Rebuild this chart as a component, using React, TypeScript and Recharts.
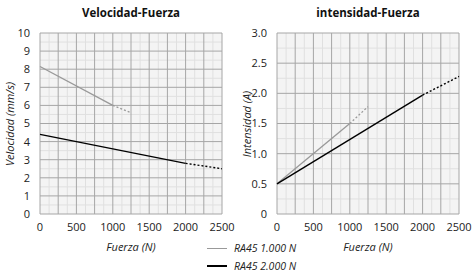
import React from 'react';
import {
  LineChart,
  Line,
  XAxis,
  YAxis,
  CartesianGrid,
  ReferenceLine,
} from 'recharts';

// fuerza ticks
const forceTicks = [0, 500, 1000, 1500, 2000, 2500];
const forceGrid = [0, 250, 500, 750, 1000, 1250, 1500, 1750, 2000, 2250, 2500];
const forceMinor = [125, 375, 625, 875, 1125, 1375, 1625, 1875, 2125, 2375];

const speedTicks = [0, 1, 2, 3, 4, 5, 6, 7, 8, 9, 10];
const speedMinor = [0.5, 1.5, 2.5, 3.5, 4.5, 5.5, 6.5, 7.5, 8.5, 9.5];

const currentTicks = [0, 0.5, 1.0, 1.5, 2.0, 2.5, 3.0];
const currentMinor = [0.25, 0.75, 1.25, 1.75, 2.25, 2.75];

// Velocidad-Fuerza
const speed1000 = [{ f: 0, v: 8.15 }, { f: 1000, v: 6.0 }];
const speed1000Dash = [{ f: 1000, v: 6.0 }, { f: 1250, v: 5.6 }];
const speed2000 = [{ f: 0, v: 4.4 }, { f: 2000, v: 2.8 }];
const speed2000Dash = [{ f: 2000, v: 2.8 }, { f: 2500, v: 2.5 }];

// intensidad-Fuerza
const current1000 = [{ f: 0, v: 0.5 }, { f: 1000, v: 1.5 }];
const current1000Dash = [{ f: 1000, v: 1.5 }, { f: 1250, v: 1.78 }];
const current2000 = [{ f: 0, v: 0.5 }, { f: 2000, v: 1.97 }];
const current2000Dash = [{ f: 2000, v: 1.97 }, { f: 2500, v: 2.28 }];

const FONT = '"Open Sans", sans-serif';
const GRAY = '#999999';
const tickStyle = { fontSize: 11, fill: '#222', fontFamily: FONT };

interface PanelProps {
  title: string;
  yLabel: string;
  yTicks: number[];
  yMinor: number[];
  yMax: number;
  yFormat: (v: number) => string;
  s1: { f: number; v: number }[];
  s1d: { f: number; v: number }[];
  s2: { f: number; v: number }[];
  s2d: { f: number; v: number }[];
  left: number;
}

function Panel({ title, yLabel, yTicks, yMinor, yMax, yFormat, s1, s1d, s2, s2d, left }: PanelProps) {
  return (
    <div style={{ position: 'absolute', left, top: 0, width: 236, height: 275 }}>
      <div
        style={{
          position: 'absolute',
          left: 40,
          width: 182,
          top: 5,
          textAlign: 'center',
          fontFamily: FONT,
          fontWeight: 'bold',
          fontSize: 11.5,
          color: '#111',
        }}
      >
        {title}
      </div>
      <LineChart width={236} height={275} margin={{ top: 33, right: 14, bottom: 31, left: 0 }}>
        <CartesianGrid fill="#f4f4f4" stroke="none" />
        {forceMinor.map((x) => (
          <ReferenceLine key={'vx' + x} x={x} stroke="#e0e0e0" strokeWidth={1} />
        ))}
        {yMinor.map((y) => (
          <ReferenceLine key={'hy' + y} y={y} stroke="#e0e0e0" strokeWidth={1} />
        ))}
        {forceGrid.map((x) => (
          <ReferenceLine key={'gx' + x} x={x} stroke="#a6a6a6" strokeWidth={1} />
        ))}
        {yTicks.map((y) => (
          <ReferenceLine key={'gy' + y} y={y} stroke="#a6a6a6" strokeWidth={1} />
        ))}
        <XAxis
          type="number"
          dataKey="f"
          domain={[0, 2500]}
          ticks={forceTicks}
          axisLine={false}
          tickLine={false}
          tickSize={0}
          tickMargin={9}
          height={30}
          tick={tickStyle}
          interval={0}
        />
        <YAxis
          type="number"
          dataKey="v"
          domain={[0, yMax]}
          ticks={yTicks}
          axisLine={false}
          tickLine={false}
          tickSize={0}
          tickMargin={10}
          width={40}
          tick={tickStyle}
          tickFormatter={yFormat}
          interval={0}
        />
        <Line data={s1} dataKey="v" stroke={GRAY} strokeWidth={1.3} dot={false} isAnimationActive={false} />
        <Line data={s1d} dataKey="v" stroke={GRAY} strokeWidth={1.3} strokeDasharray="2 2" dot={false} isAnimationActive={false} />
        <Line data={s2} dataKey="v" stroke="#000" strokeWidth={1.4} dot={false} isAnimationActive={false} />
        <Line data={s2d} dataKey="v" stroke="#000" strokeWidth={1.4} strokeDasharray="2 2" dot={false} isAnimationActive={false} />
      </LineChart>
      <div
        style={{
          position: 'absolute',
          left: 1,
          top: 124,
          transform: 'translate(-50%, -50%) rotate(-90deg)',
          marginLeft: 8,
          whiteSpace: 'nowrap',
          fontFamily: FONT,
          fontStyle: 'italic',
          fontSize: 11,
          color: '#222',
        }}
      >
        {yLabel}
      </div>
      <div
        style={{
          position: 'absolute',
          left: 40,
          width: 182,
          top: 239,
          textAlign: 'center',
          fontFamily: FONT,
          fontStyle: 'italic',
          fontSize: 11,
          color: '#222',
        }}
      >
        Fuerza (N)
      </div>
    </div>
  );
}

export default function App() {
  const legendText = { fontFamily: FONT, fontStyle: 'italic' as const, fontSize: 10.5, color: '#222' };
  return (
    <div style={{ position: 'absolute', left: 0, top: 0, width: 472, height: 275, background: '#fff' }}>
      <Panel
        title="Velocidad-Fuerza"
        yLabel="Velocidad (mm/s)"
        yTicks={speedTicks}
        yMinor={speedMinor}
        yMax={10}
        yFormat={(v) => String(v)}
        s1={speed1000}
        s1d={speed1000Dash}
        s2={speed2000}
        s2d={speed2000Dash}
        left={0}
      />
      <Panel
        title="intensidad-Fuerza"
        yLabel="Intensidad (A)"
        yTicks={currentTicks}
        yMinor={currentMinor}
        yMax={3}
        yFormat={(v) => (v === 0 ? '0' : v.toFixed(1))}
        s1={current1000}
        s1d={current1000Dash}
        s2={current2000}
        s2d={current2000Dash}
        left={237}
      />
      <div style={{ position: 'absolute', left: 207, top: 241, display: 'flex', alignItems: 'center' }}>
        <div style={{ width: 20, height: 1, background: GRAY, marginRight: 7 }} />
        <span style={legendText}>RA45 1.000 N</span>
      </div>
      <div style={{ position: 'absolute', left: 207, top: 259, display: 'flex', alignItems: 'center' }}>
        <div style={{ width: 20, height: 1.5, background: '#000', marginRight: 7 }} />
        <span style={legendText}>RA45 2.000 N</span>
      </div>
    </div>
  );
}
